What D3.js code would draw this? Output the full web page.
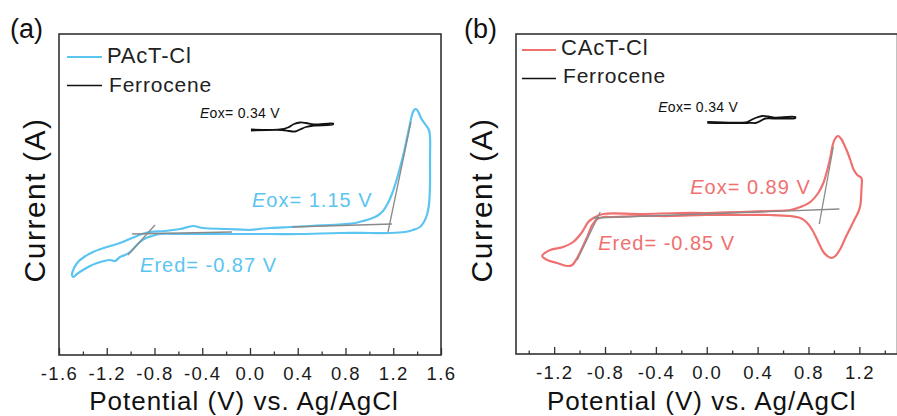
<!DOCTYPE html>
<html><head><meta charset="utf-8">
<script src="https://cdn.jsdelivr.net/npm/d3@7"></script>
<style>
html,body{margin:0;padding:0;background:#fff;}
svg{display:block;font-family:"Liberation Sans",Arial,sans-serif;}
</style></head>
<body>
<svg id="chart" width="897" height="416"></svg>
<script>
// ---------- DATA ----------
// Panel (a): PAcT-Cl cyclic voltammogram [potential V, current a.u.]
const pactV = [0.000,0.168,0.335,0.503,0.670,0.796,0.879,0.946,1.005,1.064,1.114,1.156,1.189,1.223,1.256,1.290,1.315,1.340,1.357,1.374,1.390,1.407,1.432,1.466,1.499,1.508,
  1.508,1.508,1.499,1.482,1.457,1.424,1.365,1.298,1.173,1.005,0.754,0.419,0.168,-0.084,-0.335,-0.586,-0.754,-0.821,-0.871,-0.921,-0.963,-1.005,-1.047,-1.089,-1.131,-1.173,-1.223,-1.281,-1.340,-1.399,-1.449,-1.482,
  -1.491,-1.474,-1.441,-1.390,-1.315,-1.198,-1.089,-0.988,-0.905,-0.838,-0.712,-0.586,-0.477,-0.394,-0.193,0.000];
const pactI = [0.3,0.5,0.6,0.7,0.8,0.9,1.0,1.2,1.4,1.7,2.2,3.0,3.9,5.1,6.5,8.1,9.5,10.9,11.8,12.3,12.4,12.2,11.5,10.9,10.3,9.6,
  7.3,4.8,2.8,1.8,1.1,0.6,0.3,0.1,0.0,0.0,0.0,-0.1,-0.1,-0.1,-0.1,-0.1,-0.1,-0.3,-0.5,-0.9,-1.4,-1.9,-2.2,-2.4,-2.8,-2.7,-2.8,-3.0,-3.3,-3.7,-4.1,-4.4,
  -4.2,-3.5,-2.9,-2.4,-1.9,-1.4,-1.0,-0.5,-0.1,0.1,0.2,0.4,0.7,0.5,0.4,0.3];
// Ferrocene reference (panel a inset)
const ferroAV = [0.008,0.251,0.318,0.369,0.419,0.469,0.536,0.695,0.695,0.536,0.469,0.419,0.377,0.327,0.268,0.008];
const ferroAI = [10.35,10.35,10.55,10.9,11.05,11.0,10.85,10.95,10.85,10.75,10.6,10.35,10.15,10.2,10.3,10.25];
// Onset tangent lines (panel a): [V1,I1,V2,I2]
const tangentsA = [
  [-0.796,0.8,-1.022,-2.2],
  [-0.988,-0.1,-0.151,0.1],
  [1.348,11.1,1.156,0.1],
  [0.352,0.6,1.189,0.9]
];

// Panel (b): CAcT-Cl cyclic voltammogram
const cactV = [0.000,0.264,0.500,0.657,0.736,0.814,0.877,0.917,0.948,0.972,0.995,1.019,1.035,1.058,1.082,1.106,1.129,1.153,1.184,1.216,
  1.216,1.208,1.192,1.168,1.129,1.090,1.050,1.011,0.980,0.948,0.917,0.877,0.830,0.783,0.736,0.657,0.500,0.264,-0.004,-0.287,-0.523,-0.759,-0.814,-0.861,-0.901,-0.940,-0.980,-1.019,-1.058,-1.098,-1.176,-1.255,-1.294,
  -1.231,-1.129,-1.050,-0.980,-0.932,-0.877,-0.814,-0.523,-0.209,0.000];
const cactI = [0.1,0.2,0.3,0.4,0.7,1.2,2.1,3.1,4.4,5.7,7.1,7.7,7.8,7.5,6.9,6.2,5.4,4.5,3.9,3.6,
  2.4,0.9,0.2,-0.4,-1.4,-2.4,-3.5,-4.2,-4.4,-4.2,-3.8,-2.8,-1.6,-0.8,-0.4,-0.2,-0.1,-0.1,-0.1,-0.2,-0.2,-0.3,-0.3,-0.5,-1.1,-2.3,-3.4,-4.4,-5.1,-5.2,-4.9,-4.6,-4.2,
  -3.6,-3.3,-2.8,-1.8,-0.8,-0.3,0.0,0.0,0.1,0.1];
const ferroBV = [0.004,0.319,0.342,0.382,0.437,0.484,0.523,0.696,0.696,0.523,0.460,0.421,0.382,0.342,0.319,0.004];
const ferroBI = [9.2,9.2,9.35,9.6,9.8,9.75,9.65,9.7,9.6,9.55,9.55,9.3,9.1,9.12,9.1,9.1];
const tangentsB = [
  [-0.838,0.2,-1.019,-4.6],
  [-0.893,-0.4,1.043,0.5],
  [0.995,6.7,0.885,-1.0]
];

// Tick labels
const ticksA = [-1.6,-1.2,-0.8,-0.4,0.0,0.4,0.8,1.2,1.6];
const minorA = [-1.4,-1.0,-0.6,-0.2,0.2,0.6,1.0,1.4];
const ticksB = [-1.2,-0.8,-0.4,0.0,0.4,0.8,1.2];
const minorB = [-1.4,-1.0,-0.6,-0.2,0.2,0.6,1.0,1.4];

// ---------- DRAW ----------
const svg = d3.select("#chart");
const FONT = "'Liberation Sans',Arial,sans-serif";
const BLUE = "#5bc4f1", RED = "#f07070", GRAY = "#8a8a8a";

function zip(a,b){ return a.map((v,i)=>[v,b[i]]); }
const fmt = d => d.toFixed(1);

function panel(cfg){
  const x = d3.scaleLinear().domain(cfg.xdom).range([cfg.left, cfg.right]);
  const y = d3.scaleLinear().domain(cfg.ydom).range([cfg.bottom, cfg.top]);
  const g = svg.append("g");

  // frame
  g.append("rect").attr("x",cfg.left).attr("y",cfg.top)
    .attr("width",cfg.right-cfg.left).attr("height",cfg.bottom-cfg.top)
    .attr("fill","none").attr("stroke","#333").attr("stroke-width",1.6);

  // axes
  const ax = g.append("g").attr("transform",`translate(0,${cfg.bottom})`)
    .call(d3.axisBottom(x).tickValues(cfg.ticks).tickSize(-7).tickPadding(12).tickFormat(fmt));
  ax.select(".domain").remove();
  ax.selectAll("line").attr("stroke","#333").attr("stroke-width",1.3);
  ax.selectAll("text").attr("font-family",FONT).attr("font-size",18.5).attr("fill","#1a1a1a")
    .attr("letter-spacing","1.4px");
  const mx = g.append("g").attr("transform",`translate(0,${cfg.bottom})`)
    .call(d3.axisBottom(x).tickValues(cfg.minor).tickSize(-3.5).tickFormat(""));
  mx.select(".domain").remove();
  mx.selectAll("line").attr("stroke","#333").attr("stroke-width",1.3);

  const line = d3.line().x(d=>x(d[0])).y(d=>y(d[1])).curve(d3.curveCatmullRom.alpha(0.5));

  // main CV
  g.append("path").datum(zip(cfg.cv[0],cfg.cv[1])).attr("d",line)
    .attr("fill","none").attr("stroke",cfg.color).attr("stroke-width",2.2).attr("stroke-linejoin","round");

  // tangents
  cfg.tangents.forEach(t=>{
    g.append("line").attr("x1",x(t[0])).attr("y1",y(t[1])).attr("x2",x(t[2])).attr("y2",y(t[3]))
      .attr("stroke",GRAY).attr("stroke-width",1.3);
  });

  // ferrocene
  g.append("path").datum(zip(cfg.fc[0],cfg.fc[1])).attr("d",line)
    .attr("fill","none").attr("stroke","#111").attr("stroke-width",1.8);

  // annotations
  function ann(txt, V, I, size, color, ls){
    const t = g.append("text").attr("x",x(V)).attr("y",y(I)).attr("font-family",FONT)
      .attr("font-size",size).attr("fill",color).attr("letter-spacing",ls+"px");
    t.append("tspan").attr("font-style","italic").text("E");
    t.append("tspan").text(txt);
  }
  cfg.anns.forEach(a=>ann(a[0],a[1],a[2],a[3],a[4],a[5]));

  // legend
  const L = cfg.legend;
  g.append("line").attr("x1",L.x1).attr("x2",L.x2).attr("y1",L.y1).attr("y2",L.y1)
    .attr("stroke",cfg.color).attr("stroke-width",2.2);
  g.append("text").attr("x",L.tx).attr("y",L.ty1).attr("font-family",FONT).attr("font-size",22)
    .attr("letter-spacing","0.8px").attr("fill","#222").text(cfg.name);
  g.append("line").attr("x1",L.x1).attr("x2",L.x2).attr("y1",L.y2+0.5).attr("y2",L.y2+0.5)
    .attr("stroke","#111").attr("stroke-width",1.3);
  g.append("text").attr("x",L.tx+2).attr("y",L.ty2).attr("font-family",FONT).attr("font-size",21)
    .attr("letter-spacing","0.8px").attr("fill","#222").text("Ferrocene");

  // axis titles
  g.append("text").attr("x",(cfg.left+cfg.right)/2 + cfg.titleShift).attr("y",410).attr("text-anchor","middle")
    .attr("font-family",FONT).attr("font-size",26).attr("letter-spacing","1px").attr("fill","#111")
    .text("Potential (V) vs. Ag/AgCl");
  g.append("text").attr("transform",`translate(${cfg.ylabX},200) rotate(-90)`).attr("text-anchor","middle")
    .attr("font-family",FONT).attr("font-size",30).attr("letter-spacing","1.5px").attr("fill","#111")
    .text("Current (A)");
  // panel letter
  g.append("text").attr("x",cfg.letterX).attr("y",38).attr("font-family",FONT).attr("font-size",27)
    .attr("fill","#111").text(cfg.letter);
}

panel({
  left:59, right:441, top:34, bottom:355,
  xdom:[-1.6,1.6], ydom:[-12.2,19.9],
  ticks:ticksA, minor:minorA, color:BLUE, name:"PAcT-Cl",
  cv:[pactV,pactI], fc:[ferroAV,ferroAI], tangents:tangentsA,
  anns:[["ox= 1.15 V",0.017,2.6,20,BLUE,1],["red= -0.87 V",-0.921,-3.9,20,BLUE,1],["ox= 0.34 V",-0.419,11.5,14,"#111",0.3]],
  legend:{x1:67,x2:102,y1:57,y2:85,tx:107,ty1:63,ty2:92},
  titleShift:-6, ylabX:45, letterX:10, letter:"(a)"
});
panel({
  left:516, right:897.5, top:34, bottom:354,
  xdom:[-1.5,1.5], ydom:[-14.0,18.0],
  ticks:ticksB, minor:minorB, color:RED, name:"CAcT-Cl",
  cv:[cactV,cactI], fc:[ferroBV,ferroBI], tangents:tangentsB,
  anns:[["ox= 0.89 V",-0.130,2.0,20,RED,1],["red= -0.85 V",-0.854,-3.6,20,RED,1],["ox= 0.34 V",-0.382,10.2,14,"#111",0.3]],
  legend:{x1:522,x2:556,y1:50,y2:78,tx:561,ty1:55,ty2:83},
  titleShift:-5, ylabX:492, letterX:464, letter:"(b)"
});
</script>
</body></html>
